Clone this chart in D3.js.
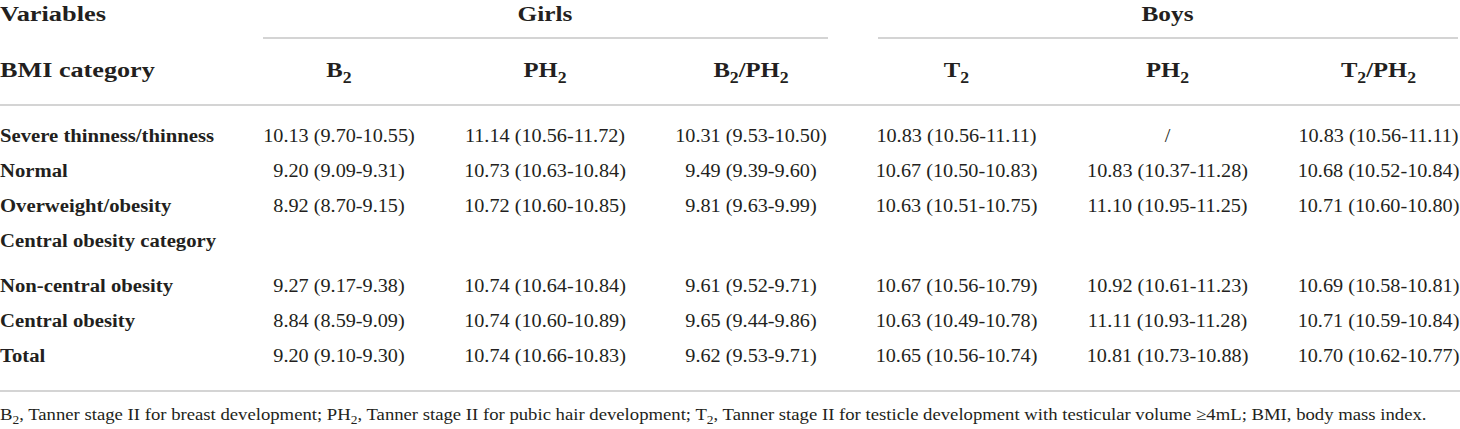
<!DOCTYPE html>
<html lang="en">
	<head>
		<meta charset="utf-8">
		<title></title>
		<script type="text/javascript" src="https://cdn.jsdelivr.net/npm/d3@7"></script>
		<style type="text/css">
			body { margin: 0; background: #fff; }
			text { font-family: "Liberation Serif", "Times New Roman", serif; fill: #231f20; }
		</style>
	</head>
	<body>
		<script type="text/javascript">

			//Width and height
			var w = 1460;
			var h = 429;

			// table content, "_2" marks a subscript 2
			var groups = ["Girls", "Boys"];
			var girlCols = ["B_2", "PH_2", "B_2/PH_2"];
			var boyCols = ["T_2", "PH_2", "T_2/PH_2"];
			var rowLabels = ["Severe thinness/thinness", "Normal", "Overweight/obesity", "Central obesity category",
				"Non-central obesity", "Central obesity", "Total"];

			var girlsB2 = ["10.13 (9.70-10.55)", "9.20 (9.09-9.31)", "8.92 (8.70-9.15)", "", "9.27 (9.17-9.38)", "8.84 (8.59-9.09)", "9.20 (9.10-9.30)"];
			var girlsPH2 = ["11.14 (10.56-11.72)", "10.73 (10.63-10.84)", "10.72 (10.60-10.85)", "", "10.74 (10.64-10.84)", "10.74 (10.60-10.89)", "10.74 (10.66-10.83)"];
			var girlsB2PH2 = ["10.31 (9.53-10.50)", "9.49 (9.39-9.60)", "9.81 (9.63-9.99)", "", "9.61 (9.52-9.71)", "9.65 (9.44-9.86)", "9.62 (9.53-9.71)"];
			var boysT2 = ["10.83 (10.56-11.11)", "10.67 (10.50-10.83)", "10.63 (10.51-10.75)", "", "10.67 (10.56-10.79)", "10.63 (10.49-10.78)", "10.65 (10.56-10.74)"];
			var boysPH2 = ["/", "10.83 (10.37-11.28)", "11.10 (10.95-11.25)", "", "10.92 (10.61-11.23)", "11.11 (10.93-11.28)", "10.81 (10.73-10.88)"];
			var boysT2PH2 = ["10.83 (10.56-11.11)", "10.68 (10.52-10.84)", "10.71 (10.60-10.80)", "", "10.69 (10.58-10.81)", "10.71 (10.59-10.84)", "10.70 (10.62-10.77)"];

			var footnote = "B_2, Tanner stage II for breast development; PH_2, Tanner stage II for pubic hair development; T_2, Tanner stage II for testicle development with testicular volume \u22654mL; BMI, body mass index.";

			var svg = d3.select("body")
						.append("svg")
						.attr("width", w)
						.attr("height", h);

			// column scales, one per group
			var girlScale = d3.scaleBand().domain(girlCols.map((d, i) => i)).range([236, 854]);
			var boyScale = d3.scaleBand().domain(boyCols.map((d, i) => i)).range([851, 1484]);
			// rows step 35px, with a little extra room after the "Central obesity category" row
			var rowScale = d3.scaleLinear().domain([0, 6]).range([142, 352]);
			var rowY = function(i) { return rowScale(i) + (i >= 4 ? 10 : 0); };

			var lineColor = "#c6c6c6";

			// writes a string with "_2" style subscripts into a text node
			function rich(sel, str, size) {
				var parts = str.split(/_(\d)/);
				parts.forEach(function(p, i) {
					if (p === "") return;
					if (i % 2 === 1) {
						sel.append("tspan").attr("dy", size * 0.25).attr("font-size", size * 0.72).text(p);
					} else {
						var t = sel.append("tspan").text(p);
						if (i > 0) t.attr("dy", -size * 0.25);
					}
				});
			}

			// the source face is wider than Times, so stretch a little
			function cell(x, y, str, size, weight, anchor, sx) {
				var t = svg.append("text")
					.attr("transform", "translate(" + x + "," + y + ") scale(" + sx + ",1)")
					.attr("font-size", size)
					.attr("font-weight", weight)
					.attr("text-anchor", anchor);
				rich(t, str, size);
				return t;
			}

			// header
			cell(0, 21, "Variables", 22, "bold", "start", 1.2);
			cell(0, 77, "BMI category", 22, "bold", "start", 1.19);

			var groupSpans = [[girlScale, girlCols], [boyScale, boyCols]];
			groupSpans.forEach(function(g, gi) {
				var sc = g[0];
				var x0 = sc(0) + sc.bandwidth() / 2;
				var x1 = sc(g[1].length - 1) + sc.bandwidth() / 2;
				cell((x0 + x1) / 2, 21, groups[gi], 22, "bold", "middle", 1.15);
				svg.append("line")
					.attr("x1", sc(0) + 27)
					.attr("x2", Math.min(sc(g[1].length - 1) + sc.bandwidth() - 26, w))
					.attr("y1", 38).attr("y2", 38)
					.attr("stroke", lineColor).attr("stroke-width", 1.6);
				g[1].forEach(function(c, ci) {
					cell(sc(ci) + sc.bandwidth() / 2, 77, c, 22, "bold", "middle", 1.12);
				});
			});

			svg.append("line")
				.attr("x1", 0).attr("x2", w)
				.attr("y1", 105).attr("y2", 105)
				.attr("stroke", lineColor).attr("stroke-width", 1.6);

			// body rows
			var series = [
				[girlScale, 0, girlsB2], [girlScale, 1, girlsPH2], [girlScale, 2, girlsB2PH2],
				[boyScale, 0, boysT2], [boyScale, 1, boysPH2], [boyScale, 2, boysT2PH2]
			];

			rowLabels.forEach(function(r, ri) {
				cell(0, rowY(ri), r, 19, "bold", "start", 1.09);
			});

			series.forEach(function(s) {
				s[2].forEach(function(v, ri) {
					if (v === "") return;
					cell(s[0](s[1]) + s[0].bandwidth() / 2, rowY(ri), v, 19, "normal", "middle", 1.065);
				});
			});

			svg.append("line")
				.attr("x1", 0).attr("x2", w)
				.attr("y1", 391).attr("y2", 391)
				.attr("stroke", lineColor).attr("stroke-width", 1.6);

			// footnote
			cell(0, 420, footnote, 17, "normal", "start", 1.1);

		</script>
	</body>
</html>
